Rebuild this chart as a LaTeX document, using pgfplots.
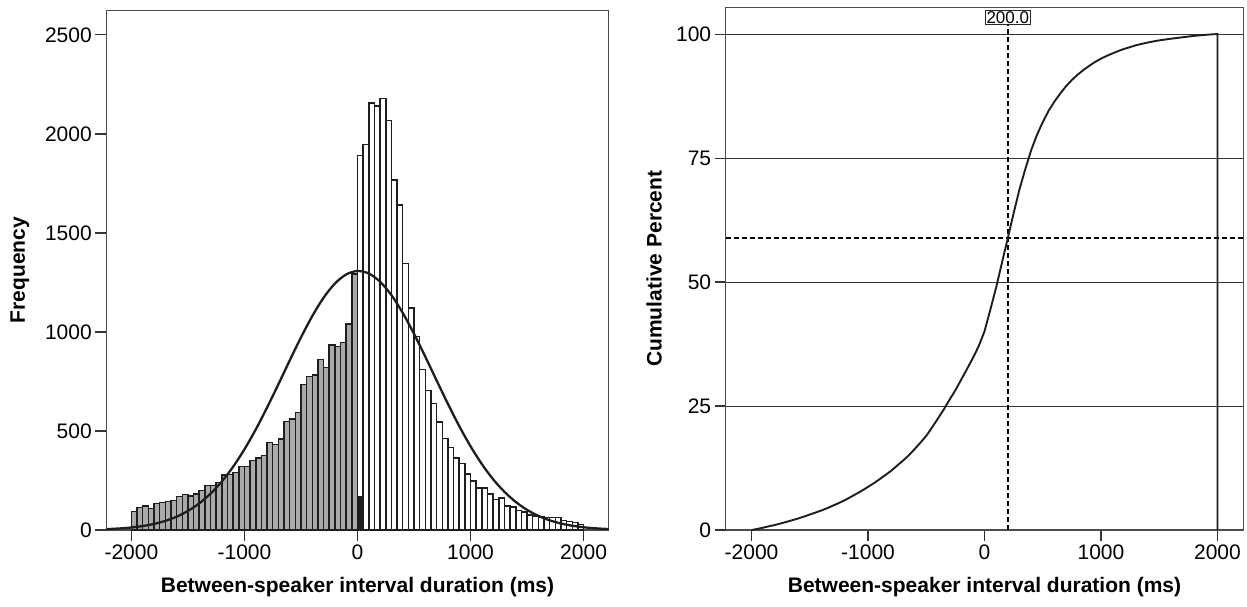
\documentclass[border=0pt]{standalone}
\usepackage{fontspec}
\setmainfont{Liberation Sans}
\usepackage{pgfplots}
\pgfplotsset{compat=1.18}
\definecolor{bargray}{RGB}{170,170,170}
\definecolor{edge}{RGB}{30,30,30}
\begin{document}
\begin{tikzpicture}
\useasboundingbox (0pt,0pt) rectangle (1247pt,606pt);
\pgfplotsset{
  common/.style={
    scale only axis,
    anchor=south west,
    xmin=-2222, xmax=2222,
    xtick={-2000,-1000,0,1000,2000},
    xticklabels={-2000,-1000,0,1000,2000},
    tick align=outside,
    xtick pos=bottom, ytick pos=left,
    major tick length=11pt,
    tick style={black!80, line width=1.1pt},
    axis line style={black!70, line width=1.2pt},
    tick label style={font=\fontsize{21}{25}\selectfont},
    label style={font=\fontsize{21}{25}\selectfont\bfseries},
    xlabel={Between-speaker interval duration (ms)},
  }
}
% ---------------- left: histogram ----------------
\begin{axis}[common,
  at={(106.3pt,76pt)}, width=502.4pt, height=519.8pt,
  ymin=0, ymax=2625,
  ytick={0,500,1000,1500,2000,2500},
  yticklabels={0,500,1000,1500,2000,2500},
  ylabel={Frequency},
  xlabel style={at={(axis description cs:0.5,-0.1097)}, anchor=center},
  ylabel style={at={(axis description cs:-0.172,0.5)}, anchor=center},
]
\addplot[ybar interval, fill=bargray, draw=edge, line width=1.5pt] coordinates {
(-2000,93) (-1950,113) (-1900,122) (-1850,109) (-1800,135) (-1750,138) (-1700,145) (-1650,149) (-1600,168) (-1550,180)
(-1500,172) (-1450,183) (-1400,200) (-1350,226) (-1300,226) (-1250,239) (-1200,279) (-1150,280) (-1100,290) (-1050,320)
(-1000,320) (-950,350) (-900,364) (-850,377) (-800,443) (-750,433) (-700,460) (-650,549) (-600,561) (-550,594)
(-500,736) (-450,776) (-400,783) (-350,862) (-300,820) (-250,934) (-200,926) (-150,948) (-100,1040) (-50,1293) (0,0)};
\addplot[ybar interval, fill=white, draw=edge, line width=1.5pt] coordinates {
(0,1892) (50,1946) (100,2157) (150,2140) (200,2179) (250,2069) (300,1768) (350,1640) (400,1347) (450,1121)
(500,978) (550,811) (600,705) (650,640) (700,545) (750,462) (800,416) (850,363) (900,335) (950,284)
(1000,247) (1050,213) (1100,213) (1150,182) (1200,153) (1250,162) (1300,120) (1350,116) (1400,98) (1450,90)
(1500,75) (1550,70) (1600,65) (1650,62) (1700,62) (1750,62) (1800,47) (1850,43) (1900,38) (1950,27) (2000,0)};
\addplot[ybar interval, fill=edge, draw=edge, line width=1.5pt] coordinates {(0,170) (50,170)};
\addplot[smooth, draw=edge, line width=2.3pt] coordinates {
(-2222,4.4) (-2100,8.0) (-2000,12.8) (-1900,20.0) (-1800,30.7) (-1700,46.0) (-1600,67.3) (-1500,96.2)
(-1400,134.4) (-1300,183.6) (-1200,245.0) (-1100,319.6) (-1000,407.5) (-900,507.7) (-800,618.3) (-700,735.7)
(-600,855.7) (-500,972.7) (-400,1080.5) (-300,1173.1) (-200,1244.6) (-100,1290.6) (0,1308) (100,1295.4)
(200,1253.8) (300,1186.1) (400,1096.5) (500,990.7) (600,874.8) (700,754.9) (800,636.7) (900,524.8)
(1000,422.7) (1100,332.8) (1200,256.0) (1300,192.6) (1400,141.5) (1500,101.6) (1600,71.3) (1700,48.9)
(1800,32.8) (1900,21.5) (2000,13.8) (2100,8.6) (2222,4.8)};
\end{axis}
% ---------------- right: cumulative ----------------
\begin{axis}[common,
  at={(725.7pt,76pt)}, width=517.6pt, height=522.7pt,
  ymin=0, ymax=105.4, clip=false,
  ytick={0,25,50,75,100},
  yticklabels={0,25,50,75,100},
  ymajorgrids, grid style={black!80, line width=1pt},
  ylabel={Cumulative Percent},
  xlabel style={at={(axis description cs:0.5,-0.1091)}, anchor=center},
  ylabel style={at={(axis description cs:-0.1385,0.5)}, anchor=center},
]
\addplot[draw=black, line width=2pt, dash pattern=on 5pt off 3pt] coordinates {(200,0) (200,103)};
\addplot[draw=black, line width=2pt, dash pattern=on 5pt off 3pt] coordinates {(-2222,58.9) (2222,58.9)};
\addplot[draw=edge, line width=1.9pt] coordinates {
(-2000,0) (-1950,0.215) (-1900,0.476) (-1850,0.758) (-1800,1.010) (-1750,1.322) (-1700,1.641) (-1650,1.976)
(-1600,2.320) (-1550,2.708) (-1500,3.124) (-1450,3.521) (-1400,3.944) (-1350,4.406) (-1300,4.929) (-1250,5.451)
(-1200,6.003) (-1150,6.648) (-1100,7.295) (-1050,7.965) (-1000,8.704) (-950,9.443) (-900,10.252) (-850,11.093)
(-800,11.964) (-750,12.988) (-700,13.988) (-650,15.051) (-600,16.320) (-550,17.616) (-500,18.989) (-450,20.689)
(-400,22.482) (-350,24.291) (-300,26.283) (-250,28.178) (-200,30.336) (-150,32.476) (-100,34.666) (-50,37.069)
(0,40.056) (50,44.428) (100,48.925) (150,53.908) (200,58.853) (250,63.888) (300,68.668) (350,72.754)
(400,76.543) (450,79.655) (500,82.246) (550,84.505) (600,86.379) (650,88.008) (700,89.487) (750,90.746)
(800,91.814) (850,92.775) (900,93.613) (950,94.388) (1000,95.044) (1050,95.614) (1100,96.107) (1150,96.599)
(1200,97.019) (1250,97.373) (1300,97.747) (1350,98.024) (1400,98.293) (1450,98.519) (1500,98.727) (1550,98.900)
(1600,99.062) (1650,99.212) (1700,99.355) (1750,99.499) (1800,99.642) (1850,99.750) (1900,99.850) (1950,99.938)
(2000,100) (2000,0)};
\node[draw=black!85, fill=white, line width=1pt, inner xsep=1.5pt, inner ysep=1pt,
      font=\fontsize{17}{19}\selectfont] at (axis cs:200,103.3) {200.0};
\end{axis}
\end{tikzpicture}
\end{document}
